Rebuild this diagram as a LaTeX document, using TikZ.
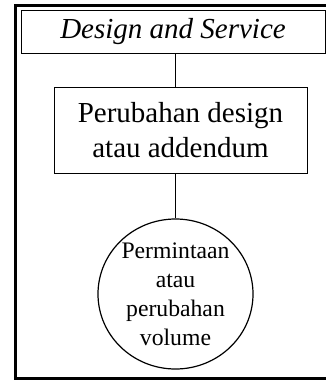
\documentclass[tikz,border=0pt]{standalone}
\usepackage{fontspec}
\setmainfont{Liberation Serif}
\usetikzlibrary{shapes.geometric}
\begin{document}
\begin{tikzpicture}[x=1pt,y=-1pt,
  boxnode/.style={draw,line width=1pt,rectangle,inner sep=0pt,align=center,
    font=\fontsize{29}{35}\selectfont},
  roundnode/.style={draw,line width=1.2pt,ellipse,inner sep=0pt,align=center,
    font=\fontsize{23.7}{29}\selectfont},
  link/.style={line width=1pt}]
\useasboundingbox (0,0) rectangle (326,380);
% outer frame (runs past the right edge)
\draw[line width=3pt] (340,5) -- (15.5,5) -- (15.5,378.5) -- (340,378.5);
% header, process box and volume node
\node[boxnode,minimum width=304pt,minimum height=43pt] (ds) at (173,31.5)
  {\itshape Design and Service};
\node[boxnode,minimum width=253pt,minimum height=86pt] (pd) at (180.5,130)
  {Perubahan design\\atau addendum};
\node[roundnode,minimum width=155pt,minimum height=150pt] (vol) at (175.5,294)
  {Permintaan\\atau\\perubahan\\volume};
% vertical links
\draw[link] (ds.south -| vol.north) -- (pd.north -| vol.north);
\draw[link] (pd.south -| vol.north) -- (vol.north);
\end{tikzpicture}
\end{document}
